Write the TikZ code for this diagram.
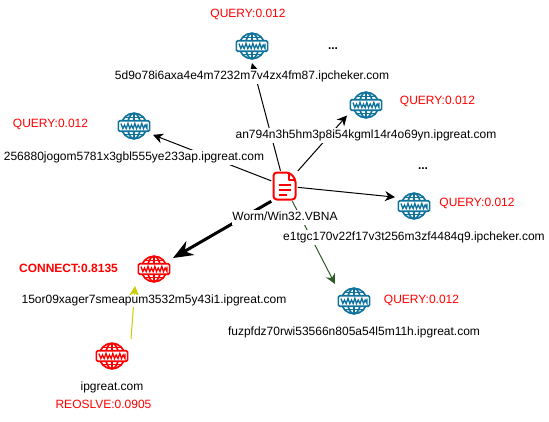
\documentclass[tikz,border=0pt]{standalone}
\usepackage{fontspec}
\setmainfont{Liberation Sans}
\usetikzlibrary{arrows.meta}
\definecolor{wwwblue}{HTML}{10739E}
\definecolor{edgegreen}{HTML}{2D5A27}
\definecolor{edgeyellow}{HTML}{CCCC00}
\tikzset{
	every node/.style={font=\fontsize{9pt}{11pt}\selectfont},
	wwwicon/.style={minimum width=25.5pt,minimum height=22.5pt,inner sep=0pt,outer sep=1.5pt,path picture={
		\begin{scope}[shift={(path picture bounding box.center)},x=0.75pt,y=-0.75pt,#1,line width=1.25pt]
		\draw (0,0) circle (12.8);
		\draw (0,0) ellipse (6.5 and 12.8);
		\draw (0,-13) -- (0,13);
		\draw (-10,-8.5) -- (10,-8.5);
		\draw (-10,8.5) -- (10,8.5);
		\draw[fill=white,rounded corners=1pt] (-15.6,-5.2) rectangle (15.6,5.2);
		\draw[line width=1pt] (-13,-2.5) -- (-11.2,2.5) -- (-9.5,-1) -- (-7.8,2.5) -- (-6,-2.5)
			-- (-4.2,2.5) -- (-2.5,-1) -- (-.8,2.5) -- (.8,-2.5)
			-- (2.5,2.5) -- (4.2,-1) -- (6,2.5) -- (7.8,-2.5)
			-- (9.5,2.5) -- (11.2,-1) -- (13,2.5) -- (13,-2.5);
		\end{scope}}},
	docicon/.style={minimum width=19.5pt,minimum height=22.5pt,inner sep=0pt,path picture={
		\begin{scope}[shift={(path picture bounding box.center)},x=0.75pt,y=-0.75pt,red,line width=1.5pt]
		\draw[rounded corners=2.5pt] (5,-13.5) -- (-11,-13.5) -- (-11,13.5) -- (11,13.5) -- (11,-7) -- cycle;
		\draw[line join=round] (4,-13) -- (4,-6.5) -- (10.5,-6.5);
		\draw (-6,-1) -- (6,-1);
		\draw (-6,4) -- (6,4);
		\draw (-6,9) -- (2,9);
		\end{scope}}},
	lbl/.style={fill=white,inner sep=0pt,text height=8pt,text depth=3.25pt},
	score/.style={text=red,inner sep=0pt},
	edge/.style={-{Stealth[length=7.5pt,width=7.5pt]},line width=.75pt},
}
\begin{document}
\begin{tikzpicture}[x=0.75pt,y=-0.75pt]
	\useasboundingbox (0,0) rectangle (549,421);
	% icons
	\foreach \nm/\x/\y in {top/252/46, left/134/126, rtop/366/105, rlow/414/206, bot/354/301}
	\node[wwwicon=wwwblue] (\nm) at (\x,\y) {};
	\node[wwwicon=red] (conn) at (154,269) {};
	\node[wwwicon=red] (ipg) at (112,356) {};
	\node[docicon] (doc) at (284.5,186) {};
	% edges
	\draw[edge] (doc) -- (top.south);
	\draw[edge] (doc) -- (left.-25);
	\draw[edge] (doc) -- (rtop.209);
	\draw[edge] (doc) -- (rlow.155);
	\draw[edge,edgegreen] (doc) -- (bot.north west);
	\draw[edge,line width=2.25pt,-{Stealth[length=15pt,width=12pt]}] (doc.south west) -- (conn);
	\draw[edge,edgeyellow] (ipg.north east) -- (conn.south west);
	% names
	\node[lbl] (topname) at (252,76.5) {5d9o78i6axa4e4m7232m7v4zx4fm87.ipcheker.com};
	\node[lbl] (leftname) at (134,157.5) {256880jogom5781x3gbl555ye233ap.ipgreat.com};
	\node[lbl] (rtopname) at (366,135.5) {an794n3h5hm3p8i54kgml14r4o69yn.ipgreat.com};
	\node[lbl] (rlowname) at (414,237) {e1tgc170v22f17v3t256m3zf4484q9.ipcheker.com};
	\node[lbl] (botname) at (354,332.5) {fuzpfdz70rwi53566n805a54l5m11h.ipgreat.com};
	\node[lbl] (docname) at (285,217) {Worm/Win32.VBNA};
	\node[lbl,text height=6.5pt,text depth=2.5pt] (connname) at (154,301) {15or09xager7smeapum3532m5y43i1.ipgreat.com};
	\node[lbl] (ipgname) at (112,387) {ipgreat.com};
	% scores
	\foreach \nm/\x/\y in {s1/248/14, s2/50.5/124, s3/437.5/101, s4/477/203, s5/421.5/300}
	\node[score] (\nm) at (\x,\y) {QUERY:0.012};
	\node[score,font=\fontsize{9pt}{11pt}\selectfont\bfseries] (s6) at (68.5,268) {CONNECT:0.8135};
	\node[score] (s7) at (103.5,404) {REOSLVE:0.0905};
	\node[font=\fontsize{9pt}{11pt}\selectfont\bfseries] (more1) at (333,49) {...};
	\node[font=\fontsize{9pt}{11pt}\selectfont\bfseries] (more2) at (423,169) {...};
\end{tikzpicture}
\end{document}
